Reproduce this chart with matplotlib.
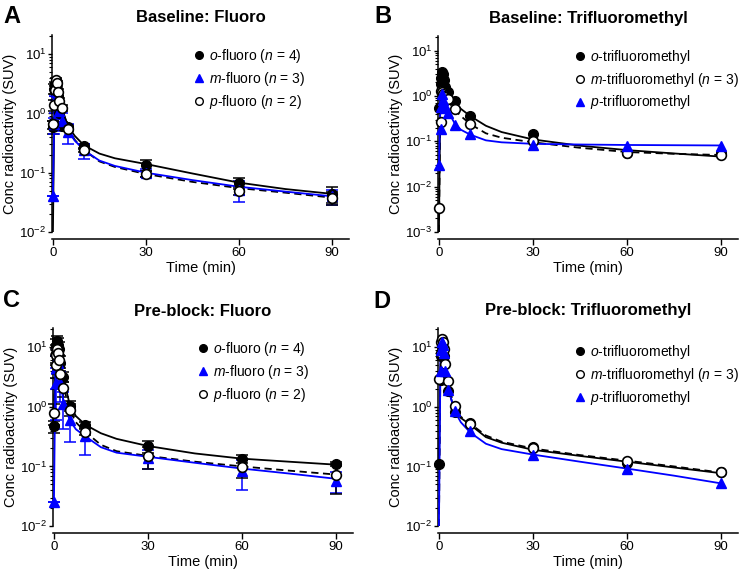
import matplotlib
matplotlib.use("Agg")
import matplotlib.pyplot as plt
from matplotlib.lines import Line2D
import numpy as np

plt.rcParams['font.family'] = ['Liberation Sans', 'DejaVu Sans']
plt.rcParams['mathtext.fontset'] = 'custom'
plt.rcParams['mathtext.rm'] = 'Liberation Sans'
plt.rcParams['mathtext.it'] = 'Liberation Sans:italic'
plt.rcParams['mathtext.bf'] = 'Liberation Sans:bold'

BLUE = '#0000ff'

# sampling times (min)
t_obs = [0.1, 0.5, 0.75, 1, 1.25, 1.5, 2, 3, 5, 10, 30, 60, 90]
t_fit = [0, 0.5, 1, 1.5, 2, 3, 5, 7, 10, 15, 20, 30, 45, 60, 75, 90]

# A: baseline fluoro
a_o = [0.6, 2.6, 3.0, 2.8, 2.4, 2.0, 1.0, 0.62, 0.58, 0.28, 0.135, 0.067, 0.044]
a_o_sd = [0.15, 0.5, 0.4, 0.4, 0.3, 0.3, 0.2, 0.1, 0.05, 0.03, 0.03, 0.013, 0.013]
a_m = [0.04, 0.65, 1.5, 2.3, 2.0, 1.6, 1.1, 0.75, 0.48, 0.24, 0.1, 0.052, 0.04]
a_m_sd = [0.0, 0.2, 0.5, 0.6, 0.5, 0.4, 0.3, 0.25, 0.18, 0.07, 0.015, 0.02, 0.012]
a_p = [0.65, 1.4, 2.5, 3.6, 3.2, 2.3, 1.6, 1.25, 0.55, 0.24, 0.095, 0.05, 0.038]
a_p_sd = [0.1, 0.3, 0.4, 0.4, 0.3, 0.3, 0.2, 0.15, 0.05, 0.02, 0.01, 0.008, 0.01]
a_o_fit = [0.01, 2.0, 3.0, 2.4, 1.8, 1.1, 0.6, 0.42, 0.29, 0.21, 0.175, 0.14, 0.097, 0.068, 0.053, 0.044]
a_m_fit = [0.04, 1.6, 2.3, 1.9, 1.4, 0.9, 0.5, 0.35, 0.24, 0.16, 0.13, 0.1, 0.075, 0.058, 0.048, 0.04]
a_p_fit = [0.65, 1.5, 3.0, 2.6, 2.0, 1.2, 0.55, 0.36, 0.24, 0.155, 0.125, 0.095, 0.07, 0.055, 0.046, 0.038]

# B: baseline trifluoromethyl
b_o = [0.54, 1.8, 2.5, 3.3, 3.0, 2.2, 1.6, 1.2, 0.78, 0.36, 0.145, 0.054, 0.054]
b_m = [0.0033, 0.27, 1.3, 1.25, 1.1, 1.0, 0.95, 0.85, 0.51, 0.24, 0.1, 0.056, 0.05]
b_p = [0.03, 0.19, 0.56, 1.1, 0.8, 0.65, 0.55, 0.43, 0.23, 0.145, 0.085, 0.08, 0.08]
b_o_fit = [0.001, 2.5, 3.2, 2.3, 1.6, 1.1, 0.75, 0.52, 0.36, 0.22, 0.16, 0.11, 0.08, 0.064, 0.054, 0.046]
b_m_fit = [0.001, 1.3, 1.2, 1.0, 0.9, 0.75, 0.5, 0.36, 0.24, 0.15, 0.12, 0.095, 0.072, 0.058, 0.053, 0.05]
b_p_fit = [0.03, 0.9, 1.1, 0.8, 0.62, 0.45, 0.25, 0.18, 0.14, 0.105, 0.095, 0.088, 0.085, 0.083, 0.082, 0.081]

# C: pre-block fluoro
c_o = [0.47, 8.0, 10.5, 12.6, 11.0, 9.5, 5.5, 3.2, 1.05, 0.5, 0.22, 0.135, 0.11]
c_o_sd = [0.1, 3, 3, 3, 3, 2.5, 1.5, 0.6, 0.2, 0.06, 0.05, 0.02, 0.01]
c_m = [0.025, 2.5, 4.5, 6.5, 5.5, 4.0, 2.5, 1.1, 0.6, 0.32, 0.14, 0.085, 0.058]
c_m_sd = [0, 1.9, 2.5, 3, 2.5, 2, 1.3, 0.68, 0.34, 0.165, 0.05, 0.045, 0.022]
c_p = [0.8, 5.0, 7.5, 9.5, 8.0, 6.0, 3.5, 2.05, 0.9, 0.38, 0.15, 0.097, 0.072]
c_p_sd = [0.3, 2, 2, 2, 2, 1.5, 1.0, 0.6, 0.2, 0.05, 0.06, 0.034, 0.037]
c_o_fit = [0.47, 10, 12.5, 9, 5.5, 3.2, 1.1, 0.7, 0.5, 0.36, 0.29, 0.22, 0.165, 0.135, 0.12, 0.107]
c_m_fit = [0.025, 5.0, 6.5, 4.2, 2.6, 1.3, 0.6, 0.42, 0.32, 0.21, 0.17, 0.145, 0.115, 0.092, 0.076, 0.062]
c_p_fit = [0.8, 6.0, 9.5, 7.0, 4.2, 2.2, 0.9, 0.55, 0.38, 0.23, 0.18, 0.15, 0.12, 0.1, 0.085, 0.073]

# D: pre-block trifluoromethyl
d_o = [0.11, 2.8, 7.0, 10.5, 9.0, 7.0, 3.0, 1.85, 0.83, 0.53, 0.21, 0.112, 0.08]
d_m = [2.9, 8.0, 12.0, 13.5, 12.0, 9.5, 5.3, 2.7, 1.05, 0.52, 0.2, 0.125, 0.08]
d_p = [np.nan, 4.0, 9.0, 12.0, 11.0, 8.0, 4.0, 1.9, 0.85, 0.39, 0.158, 0.091, 0.052]
d_o_fit = [0.11, 5, 11, 8, 5, 2.0, 0.85, 0.65, 0.5, 0.31, 0.25, 0.19, 0.15, 0.12, 0.096, 0.077]
d_m_fit = [0.01, 6, 12.5, 10, 6, 2.5, 0.95, 0.68, 0.52, 0.33, 0.26, 0.2, 0.155, 0.125, 0.1, 0.079]
d_p_fit = [0.01, 7, 12, 9, 5.5, 2.0, 0.85, 0.55, 0.37, 0.24, 0.195, 0.158, 0.12, 0.092, 0.07, 0.052]

fluoro_labels = [r'$\it{o}$-fluoro ($\it{n}$ = 4)', r'$\it{m}$-fluoro ($\it{n}$ = 3)',
                 r'$\it{p}$-fluoro ($\it{n}$ = 2)']
cf3_labels = [r'$\it{o}$-trifluoromethyl', r'$\it{m}$-trifluoromethyl ($\it{n}$ = 3)',
              r'$\it{p}$-trifluoromethyl']

fig = plt.figure(figsize=(7.43, 5.73), dpi=100)
W, H = 743, 573


def make_ax(left, right, bottom, top):
    return fig.add_axes([left / W, 1 - bottom / H, (right - left) / W, (bottom - top) / H])


ax_a = make_ax(52, 349, 232, 35)
ax_b = make_ax(438, 738, 232, 36)
ax_c = make_ax(53, 353, 526, 328)
ax_d = make_ax(438, 738, 526, 328)

style_filled = dict(marker='o', ms=7, mfc='black', mec='black', color='black')
style_open = dict(marker='o', ms=7, mfc='white', mec='black', mew=1.2, color='black')
style_tri = dict(marker='^', ms=6.5, mfc=BLUE, mec=BLUE, color=BLUE)


def draw_points(ax, y, sd, style):
    if sd is not None:
        ax.errorbar(t_obs, y, yerr=sd, fmt='none', ecolor=style['color'], elinewidth=1.1,
                    capsize=4, capthick=1.1, clip_on=False, zorder=2)
    ax.plot(t_obs, y, ls='none', marker=style['marker'], ms=style['ms'], mfc=style['mfc'],
            mec=style['mec'], mew=style.get('mew', 1), clip_on=False, zorder=4)


def finish(ax, ymin, title, letter, letter_xy, handles, labels, anchor):
    ax.set_yscale('log')
    ax.set_ylim(ymin, 21)
    ax.set_xlim(-0.3, 95.5)
    ax.set_xticks([0, 30, 60, 90])
    ax.spines['top'].set_visible(False)
    ax.spines['right'].set_visible(False)
    ax.spines['bottom'].set_position(('outward', 5))
    ax.spines['left'].set_linewidth(1.1)
    ax.spines['bottom'].set_linewidth(1.1)
    ax.tick_params(axis='x', which='major', labelsize=9.5, length=4, width=1, pad=2)
    ax.tick_params(axis='y', which='major', labelsize=9.5, length=3, width=1, pad=1)
    ax.tick_params(axis='y', which='minor', length=2, width=0.8)
    ax.set_xlabel('Time (min)', fontsize=10.5, labelpad=1)
    ax.set_ylabel('Conc radioactivity (SUV)', fontsize=10.5, labelpad=2)
    ax.set_title(title, fontsize=12, fontweight='bold', pad=9)
    fig.text(letter_xy[0] / W, 1 - letter_xy[1] / H, letter, fontsize=17, fontweight='bold',
             va='baseline', ha='left')
    ax.legend(handles, labels, loc='upper left', bbox_to_anchor=anchor, frameon=False,
              fontsize=10, handletextpad=0.25, handlelength=1.0, labelspacing=0.35,
              borderpad=0, borderaxespad=0)


def h(style, ms=5.5):
    return Line2D([], [], ls='none', marker=style['marker'], ms=ms, mfc=style['mfc'],
                  mec=style['mec'], mew=1)


# Panel A
ax_a.plot(t_fit, a_o_fit, color='black', lw=1.3, zorder=3)
ax_a.plot(t_fit, a_p_fit, color='black', lw=1.3, ls=(0, (4, 2.5)), zorder=3)
ax_a.plot(t_fit, a_m_fit, color=BLUE, lw=1.3, zorder=3)
draw_points(ax_a, a_o, a_o_sd, style_filled)
draw_points(ax_a, a_m, a_m_sd, style_tri)
draw_points(ax_a, a_p, a_p_sd, style_open)
finish(ax_a, 1e-2, 'Baseline: Fluoro', 'A', (3, 23),
       [h(style_filled), h(style_tri), h(style_open)], fluoro_labels, (0.47, 0.94))

# Panel B
ax_b.plot(t_fit, b_o_fit, color='black', lw=1.3, zorder=3)
ax_b.plot(t_fit, b_m_fit, color='black', lw=1.3, ls=(0, (4, 2.5)), zorder=3)
ax_b.plot(t_fit, b_p_fit, color=BLUE, lw=1.3, zorder=3)
draw_points(ax_b, b_o, None, style_filled)
draw_points(ax_b, b_m, None, style_open)
draw_points(ax_b, b_p, None, style_tri)
finish(ax_b, 1e-3, 'Baseline: Trifluoromethyl', 'B', (374, 23),
       [h(style_filled), h(style_open), h(style_tri)], cf3_labels, (0.45, 0.94))

# Panel C
ax_c.plot(t_fit, c_o_fit, color='black', lw=1.3, zorder=3)
ax_c.plot(t_fit, c_p_fit, color='black', lw=1.3, ls=(0, (4, 2.5)), zorder=3)
ax_c.plot(t_fit, c_m_fit, color=BLUE, lw=1.3, zorder=3)
draw_points(ax_c, c_o, c_o_sd, style_filled)
draw_points(ax_c, c_m, c_m_sd, style_tri)
draw_points(ax_c, c_p, c_p_sd, style_open)
finish(ax_c, 1e-2, 'Pre-block: Fluoro', 'C', (3, 307),
       [h(style_filled), h(style_tri), h(style_open)], fluoro_labels, (0.477, 0.94))

# Panel D
ax_d.plot(t_fit, d_o_fit, color='black', lw=1.3, zorder=3)
ax_d.plot(t_fit, d_m_fit, color='black', lw=1.3, ls=(0, (4, 2.5)), zorder=3)
ax_d.plot(t_fit, d_p_fit, color=BLUE, lw=1.3, zorder=3)
draw_points(ax_d, d_o, None, style_filled)
draw_points(ax_d, d_m, None, style_open)
draw_points(ax_d, d_p, None, style_tri)
finish(ax_d, 1e-2, 'Pre-block: Trifluoromethyl', 'D', (373, 308),
       [h(style_filled), h(style_open), h(style_tri)], cf3_labels, (0.45, 0.925))

fig.savefig('out.png', dpi=100)
